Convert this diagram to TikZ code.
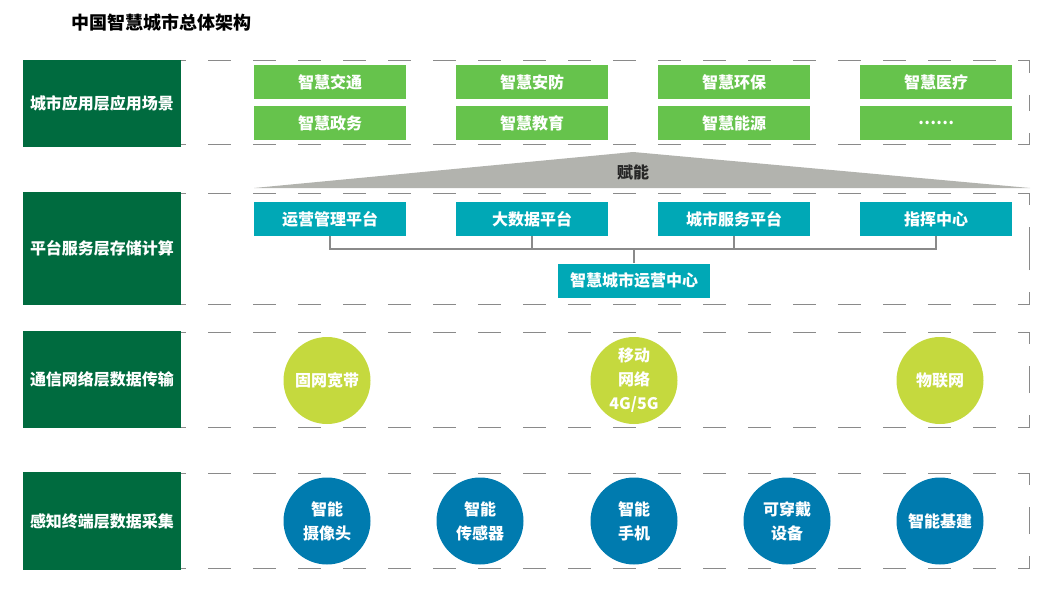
\documentclass[tikz,border=0pt]{standalone}
\usepackage{fontspec}
\setmainfont{Noto Sans CJK SC}
\usetikzlibrary{positioning}

\definecolor{layergreen}{HTML}{006B3F}
\definecolor{scenegreen}{HTML}{66C34C}
\definecolor{platformteal}{HTML}{00A8B6}
\definecolor{netlime}{HTML}{C5D93E}
\definecolor{senseblue}{HTML}{007BAF}
\definecolor{fuelgray}{HTML}{B2B3AE}
\definecolor{framegray}{HTML}{8A8A8A}

\begin{document}
\begin{tikzpicture}[x=1pt,y=-1pt,
  layerbox/.style={fill=layergreen,text=white,minimum width=158pt,inner sep=0pt,
    font=\fontsize{16}{20}\selectfont\bfseries},
  scenebox/.style={fill=scenegreen,text=white,minimum width=152pt,minimum height=34pt,
    inner sep=0pt,font=\fontsize{16}{20}\selectfont\bfseries},
  platformbox/.style={scenebox,fill=platformteal},
  netnode/.style={circle,fill=netlime,text=white,minimum size=87pt,inner sep=0pt,
    align=center,font=\fontsize{16}{24}\selectfont\bfseries},
  sensenode/.style={netnode,fill=senseblue},
  layerframe/.style={draw=framegray,line width=1pt,dash pattern=on 23pt off 22pt,dash phase=18pt},
  buswire/.style={draw=framegray,line width=1.5pt}]

\useasboundingbox (0,0) rectangle (1063,599); %% page size

%% title
\node[anchor=west,inner sep=0pt,font=\fontsize{18}{20}\selectfont\bfseries] (title)
  at (71,23) {中国智慧城市总体架构};

%% dashed frames of the four layers
\foreach \ya/\yb in {61/145,193/304,332/427,473/568}{
  \draw[layerframe] (181,\ya) -- (1029,\ya) -- (1029,{(\ya+\yb)/2});
  \draw[layerframe] (181,\yb) -- (1029,\yb) -- (1029,{(\ya+\yb)/2});
}

%% layer names
\node[layerbox,minimum height=87pt] (appl) at (102,103.5) {城市应用层应用场景};
\node[layerbox,minimum height=113pt] (plat) at (102,248.5) {平台服务层存储计算};
\node[layerbox,minimum height=97pt] (comm) at (102,379.5) {通信网络层数据传输};
\node[layerbox,minimum height=98pt] (sens) at (102,521) {感知终端层数据采集};

%% application scenes
\node[scenebox] (traffic) at (330,82.5) {智慧交通};
\node[scenebox] (security) at (532,82.5) {智慧安防};
\node[scenebox] (environ) at (734,82.5) {智慧环保};
\node[scenebox] (medical) at (936,82.5) {智慧医疗};
\node[scenebox] (govern) at (330,123) {智慧政务};
\node[scenebox] (educate) at (532,123) {智慧教育};
\node[scenebox] (energy) at (734,123) {智慧能源};
\node[scenebox] (more) at (936,123) {……};

%% empowering wedge
\fill[fuelgray] (254,188) -- (633,152) -- (1030,188) -- cycle;
\node[font=\fontsize{16}{20}\selectfont\bfseries,text=black!85] (empower) at (633,172) {赋能};

%% platforms
\node[platformbox] (opsmgmt) at (330,219) {运营管理平台};
\node[platformbox] (bigdata) at (532,219) {大数据平台};
\node[platformbox] (citysvc) at (734,219) {城市服务平台};
\node[platformbox] (command) at (936,219) {指挥中心};
\node[platformbox] (opscenter) at (634,280.5) {智慧城市运营中心};

\coordinate (bus) at (634,249);
\draw[buswire] (opsmgmt.south) -- (opsmgmt.south |- bus) -- (command.south |- bus) -- (command.south);
\draw[buswire] (bigdata.south) -- (bigdata.south |- bus);
\draw[buswire] (citysvc.south) -- (citysvc.south |- bus);
\draw[buswire] (bus) -- (opscenter.north);

%% networks
\node[netnode] (broadband) at (327,380.5) {固网宽带};
\node[netnode] (mobile) at (634,380.5) {移动\\网络\\4G/5G};
\node[netnode] (iot) at (940,380.5) {物联网};

%% terminals
\node[sensenode] (camera) at (327,521) {智能\\摄像头};
\node[sensenode] (sensor) at (480,521) {智能\\传感器};
\node[sensenode] (phone) at (634,521) {智能\\手机};
\node[sensenode] (wearable) at (787,521) {可穿戴\\设备};
\node[sensenode] (infra) at (940,521) {智能基建};

\end{tikzpicture}
\end{document}
